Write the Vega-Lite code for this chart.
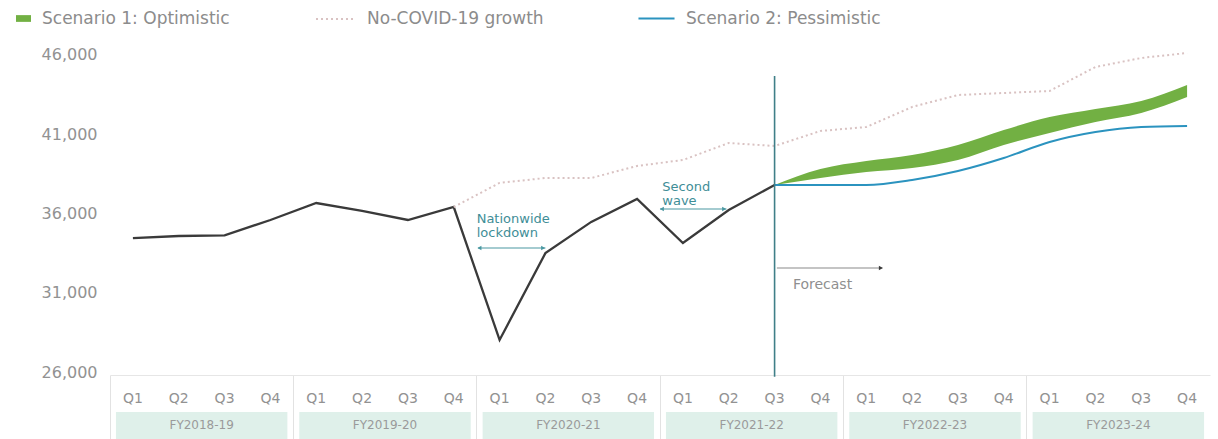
{
  "$schema": "https://vega.github.io/schema/vega-lite/v6.json",
  "width": 1100,
  "height": 335,
  "autosize": {"type": "none"},
  "padding": {"left": 110, "top": 40, "right": 8, "bottom": 64},
  "background": "white",
  "config": {
    "view": {"stroke": null},
    "font": "DejaVu Sans",
    "legend": {
      "padding": 0,
      "labelFont": "DejaVu Sans",
      "labelFontSize": 17,
      "labelColor": "#8c8c8c",
      "labelOffset": 10,
      "labelLimit": 400
    }
  },
  "resolve": {"scale": {"color": "independent"}},
  "datasets": {
    "actual": [
      {"period": "FY2018-19 Q1", "value": 34450},
      {"period": "FY2018-19 Q2", "value": 34580},
      {"period": "FY2018-19 Q3", "value": 34620},
      {"period": "FY2018-19 Q4", "value": 35590},
      {"period": "FY2019-20 Q1", "value": 36660},
      {"period": "FY2019-20 Q2", "value": 36160},
      {"period": "FY2019-20 Q3", "value": 35590},
      {"period": "FY2019-20 Q4", "value": 36410},
      {"period": "FY2020-21 Q1", "value": 28020},
      {"period": "FY2020-21 Q2", "value": 33500},
      {"period": "FY2020-21 Q3", "value": 35470},
      {"period": "FY2020-21 Q4", "value": 36920},
      {"period": "FY2021-22 Q1", "value": 34140},
      {"period": "FY2021-22 Q2", "value": 36220},
      {"period": "FY2021-22 Q3", "value": 37800}
    ],
    "nocovid": [
      {"period": "FY2019-20 Q4", "value": 36410},
      {"period": "FY2020-21 Q1", "value": 37930},
      {"period": "FY2020-21 Q2", "value": 38240},
      {"period": "FY2020-21 Q3", "value": 38240},
      {"period": "FY2020-21 Q4", "value": 39000},
      {"period": "FY2021-22 Q1", "value": 39375},
      {"period": "FY2021-22 Q2", "value": 40448},
      {"period": "FY2021-22 Q3", "value": 40259},
      {"period": "FY2021-22 Q4", "value": 41205},
      {"period": "FY2022-23 Q1", "value": 41457},
      {"period": "FY2022-23 Q2", "value": 42719},
      {"period": "FY2022-23 Q3", "value": 43476},
      {"period": "FY2022-23 Q4", "value": 43603},
      {"period": "FY2023-24 Q1", "value": 43729},
      {"period": "FY2023-24 Q2", "value": 45243},
      {"period": "FY2023-24 Q3", "value": 45811},
      {"period": "FY2023-24 Q4", "value": 46126}
    ],
    "pess": [
      {"period": "FY2021-22 Q3", "value": 37800},
      {"period": "FY2021-22 Q4", "value": 37800},
      {"period": "FY2022-23 Q1", "value": 37800},
      {"period": "FY2022-23 Q2", "value": 38114},
      {"period": "FY2022-23 Q3", "value": 38681},
      {"period": "FY2022-23 Q4", "value": 39502},
      {"period": "FY2023-24 Q1", "value": 40511},
      {"period": "FY2023-24 Q2", "value": 41142},
      {"period": "FY2023-24 Q3", "value": 41457},
      {"period": "FY2023-24 Q4", "value": 41520}
    ],
    "opt": [
      {"period": "FY2021-22 Q3", "lo": 37800, "hi": 37800},
      {"period": "FY2021-22 Q4", "lo": 38240, "hi": 38808},
      {"period": "FY2022-23 Q1", "lo": 38618, "hi": 39312},
      {"period": "FY2022-23 Q2", "lo": 38871, "hi": 39691},
      {"period": "FY2022-23 Q3", "lo": 39375, "hi": 40322},
      {"period": "FY2022-23 Q4", "lo": 40322, "hi": 41268},
      {"period": "FY2023-24 Q1", "lo": 41079, "hi": 42088},
      {"period": "FY2023-24 Q2", "lo": 41773, "hi": 42593},
      {"period": "FY2023-24 Q3", "lo": 42341, "hi": 43098},
      {"period": "FY2023-24 Q4", "lo": 43350, "hi": 44107}
    ],
    "fy": [
      {"fy": "FY2018-19", "first": "FY2018-19 Q1", "mid": "FY2018-19 Q3", "last": "FY2018-19 Q4"},
      {"fy": "FY2019-20", "first": "FY2019-20 Q1", "mid": "FY2019-20 Q3", "last": "FY2019-20 Q4"},
      {"fy": "FY2020-21", "first": "FY2020-21 Q1", "mid": "FY2020-21 Q3", "last": "FY2020-21 Q4"},
      {"fy": "FY2021-22", "first": "FY2021-22 Q1", "mid": "FY2021-22 Q3", "last": "FY2021-22 Q4"},
      {"fy": "FY2022-23", "first": "FY2022-23 Q1", "mid": "FY2022-23 Q3", "last": "FY2022-23 Q4"},
      {"fy": "FY2023-24", "first": "FY2023-24 Q1", "mid": "FY2023-24 Q3", "last": "FY2023-24 Q4"}
    ],
    "one": [{}]
  },
  "layer": [
    {
      "data": {"name": "actual"},
      "mark": {"type": "line", "strokeWidth": 2.3, "color": "#3a3a3a"},
      "encoding": {
        "x": {
          "field": "period",
          "type": "ordinal",
          "scale": {
            "type": "band",
            "paddingInner": 0,
            "paddingOuter": 0,
            "domain": [
              "FY2018-19 Q1", "FY2018-19 Q2", "FY2018-19 Q3", "FY2018-19 Q4",
              "FY2019-20 Q1", "FY2019-20 Q2", "FY2019-20 Q3", "FY2019-20 Q4",
              "FY2020-21 Q1", "FY2020-21 Q2", "FY2020-21 Q3", "FY2020-21 Q4",
              "FY2021-22 Q1", "FY2021-22 Q2", "FY2021-22 Q3", "FY2021-22 Q4",
              "FY2022-23 Q1", "FY2022-23 Q2", "FY2022-23 Q3", "FY2022-23 Q4",
              "FY2023-24 Q1", "FY2023-24 Q2", "FY2023-24 Q3", "FY2023-24 Q4"
            ]
          },
          "axis": {
            "title": null,
            "labelExpr": "slice(datum.label, -2)",
            "labelAngle": 0,
            "labelFont": "DejaVu Sans",
            "labelFontSize": 14,
            "labelColor": "#929292",
            "labelPadding": -48,
            "bandPosition": 0,
            "tickSize": 64,
            "tickWidth": 1,
            "tickColor": "#e2e2e2",
            "tickOpacity": {"condition": {"test": "indexof(datum.value, 'Q1') >= 0", "value": 1}, "value": 0},
            "domainColor": "#e6e6e6",
            "domainWidth": 1,
            "grid": false
          }
        },
        "y": {
          "field": "value",
          "type": "quantitative",
          "scale": {"domain": [25811, 46946], "nice": false, "zero": false},
          "axis": {
            "title": null,
            "values": [26000, 31000, 36000, 41000, 46000],
            "labelExpr": "format(datum.value, ',')",
            "labelFont": "DejaVu Sans",
            "labelFontSize": 16,
            "labelColor": "#929292",
            "labelPadding": 13,
            "ticks": false,
            "domain": false,
            "grid": false
          }
        }
      }
    },
    {
      "data": {"name": "opt"},
      "mark": {"type": "area", "interpolate": "monotone", "opacity": 1},
      "encoding": {
        "x": {"field": "period", "type": "ordinal"},
        "y": {"field": "lo", "type": "quantitative", "scale": {"domain": [25811, 46946], "nice": false, "zero": false}},
        "y2": {"field": "hi"},
        "color": {
          "datum": "Scenario 1: Optimistic",
          "type": "nominal",
          "scale": {"range": ["#72b043"]},
          "legend": {
            "title": null,
            "orient": "none",
            "legendX": -95,
            "legendY": -30,
            "symbolType": "M-1,-0.45H1V0.45H-1Z",
            "symbolSize": 225,
            "symbolStrokeWidth": 0,
            "symbolOpacity": 1
          }
        }
      }
    },
    {
      "data": {"name": "nocovid"},
      "mark": {"type": "line", "strokeWidth": 2, "strokeDash": [2, 3]},
      "encoding": {
        "x": {"field": "period", "type": "ordinal"},
        "y": {"field": "value", "type": "quantitative"},
        "color": {
          "datum": "No-COVID-19 growth",
          "type": "nominal",
          "scale": {"range": ["#d9c2c2"]},
          "legend": {
            "title": null,
            "orient": "none",
            "legendX": 205,
            "legendY": -42,
            "symbolType": "stroke",
            "symbolSize": 1600,
            "symbolStrokeWidth": 2,
            "symbolDash": [2, 3],
            "symbolOpacity": 1
          }
        }
      }
    },
    {
      "data": {"name": "pess"},
      "mark": {"type": "line", "strokeWidth": 2, "interpolate": "monotone"},
      "encoding": {
        "x": {"field": "period", "type": "ordinal"},
        "y": {"field": "value", "type": "quantitative"},
        "color": {
          "datum": "Scenario 2: Pessimistic",
          "type": "nominal",
          "scale": {"range": ["#2b93bf"]},
          "legend": {
            "title": null,
            "orient": "none",
            "legendX": 527,
            "legendY": -41,
            "symbolType": "stroke",
            "symbolSize": 1300,
            "symbolStrokeWidth": 2.2,
            "symbolOpacity": 1
          }
        }
      }
    },
    {
      "data": {"name": "one"},
      "mark": {"type": "rule", "color": "#3f7f88", "strokeWidth": 1.6},
      "encoding": {
        "x": {"datum": "FY2021-22 Q3", "type": "ordinal"},
        "y": {"datum": 44675, "type": "quantitative"},
        "y2": {"datum": 25700}
      }
    },
    {
      "data": {"name": "one"},
      "mark": {"type": "rule", "color": "#4a98a1", "strokeWidth": 1.2},
      "encoding": {
        "x": {"datum": "FY2020-21 Q1", "type": "ordinal", "bandPosition": 0.03},
        "x2": {"datum": "FY2020-21 Q2", "bandPosition": 0.5},
        "y": {"datum": 33823, "type": "quantitative"}
      }
    },
    {
      "data": {"name": "one"},
      "mark": {"type": "point", "shape": "triangle-left", "filled": true, "size": 22, "color": "#4a98a1", "opacity": 1},
      "encoding": {
        "x": {"datum": "FY2020-21 Q1", "type": "ordinal", "bandPosition": 0.06},
        "y": {"datum": 33823, "type": "quantitative"}
      }
    },
    {
      "data": {"name": "one"},
      "mark": {"type": "point", "shape": "triangle-right", "filled": true, "size": 22, "color": "#4a98a1", "opacity": 1},
      "encoding": {
        "x": {"datum": "FY2020-21 Q2", "type": "ordinal", "bandPosition": 0.45},
        "y": {"datum": 33823, "type": "quantitative"}
      }
    },
    {
      "data": {"name": "one"},
      "mark": {"type": "text", "align": "left", "baseline": "middle", "lineBreak": "\n", "lineHeight": 14, "fontSize": 13, "color": "#3f8e97", "font": "DejaVu Sans"},
      "encoding": {
        "x": {"datum": "FY2020-21 Q1", "type": "ordinal", "bandPosition": 0},
        "y": {"datum": 35653, "type": "quantitative"},
        "text": {"value": "Nationwide\nlockdown"}
      }
    },
    {
      "data": {"name": "one"},
      "mark": {"type": "rule", "color": "#4a98a1", "strokeWidth": 1.2},
      "encoding": {
        "x": {"datum": "FY2021-22 Q1", "type": "ordinal", "bandPosition": 0.0},
        "x2": {"datum": "FY2021-22 Q2", "bandPosition": 0.45},
        "y": {"datum": 36284, "type": "quantitative"}
      }
    },
    {
      "data": {"name": "one"},
      "mark": {"type": "point", "shape": "triangle-left", "filled": true, "size": 22, "color": "#4a98a1", "opacity": 1},
      "encoding": {
        "x": {"datum": "FY2021-22 Q1", "type": "ordinal", "bandPosition": 0.04},
        "y": {"datum": 36284, "type": "quantitative"}
      }
    },
    {
      "data": {"name": "one"},
      "mark": {"type": "point", "shape": "triangle-right", "filled": true, "size": 22, "color": "#4a98a1", "opacity": 1},
      "encoding": {
        "x": {"datum": "FY2021-22 Q2", "type": "ordinal", "bandPosition": 0.4},
        "y": {"datum": 36284, "type": "quantitative"}
      }
    },
    {
      "data": {"name": "one"},
      "mark": {"type": "text", "align": "left", "baseline": "middle", "lineBreak": "\n", "lineHeight": 14, "fontSize": 13, "color": "#3f8e97", "font": "DejaVu Sans"},
      "encoding": {
        "x": {"datum": "FY2021-22 Q1", "type": "ordinal", "bandPosition": 0.05},
        "y": {"datum": 37703, "type": "quantitative"},
        "text": {"value": "Second\nwave"}
      }
    },
    {
      "data": {"name": "one"},
      "mark": {"type": "rule", "color": "#8a8a8a", "strokeWidth": 1.2},
      "encoding": {
        "x": {"datum": "FY2021-22 Q3", "type": "ordinal", "bandPosition": 0.55},
        "x2": {"datum": "FY2022-23 Q1", "bandPosition": 0.85},
        "y": {"datum": 32562, "type": "quantitative"}
      }
    },
    {
      "data": {"name": "one"},
      "mark": {"type": "point", "shape": "triangle-right", "filled": true, "size": 22, "color": "#3a3a3a", "opacity": 1},
      "encoding": {
        "x": {"datum": "FY2022-23 Q1", "type": "ordinal", "bandPosition": 0.82},
        "y": {"datum": 32562, "type": "quantitative"}
      }
    },
    {
      "data": {"name": "one"},
      "mark": {"type": "text", "align": "left", "baseline": "middle", "fontSize": 14, "color": "#8f8f8f", "font": "DejaVu Sans"},
      "encoding": {
        "x": {"datum": "FY2021-22 Q3", "type": "ordinal", "bandPosition": 0.9},
        "y": {"datum": 31489, "type": "quantitative"},
        "text": {"value": "Forecast"}
      }
    },
    {
      "data": {"name": "fy"},
      "mark": {"type": "rect", "color": "#dff0ea"},
      "encoding": {
        "x": {"field": "first", "type": "ordinal", "bandPosition": 0.13},
        "x2": {"field": "last", "bandPosition": 0.87},
        "y": {"datum": 23476, "type": "quantitative"},
        "y2": {"datum": 21600}
      }
    },
    {
      "data": {"name": "fy"},
      "mark": {"type": "text", "fontSize": 12, "color": "#9a9a9a", "baseline": "middle", "font": "DejaVu Sans"},
      "encoding": {
        "x": {"field": "mid", "type": "ordinal", "bandPosition": 0},
        "y": {"datum": 22656, "type": "quantitative"},
        "text": {"field": "fy"}
      }
    }
  ]
}
